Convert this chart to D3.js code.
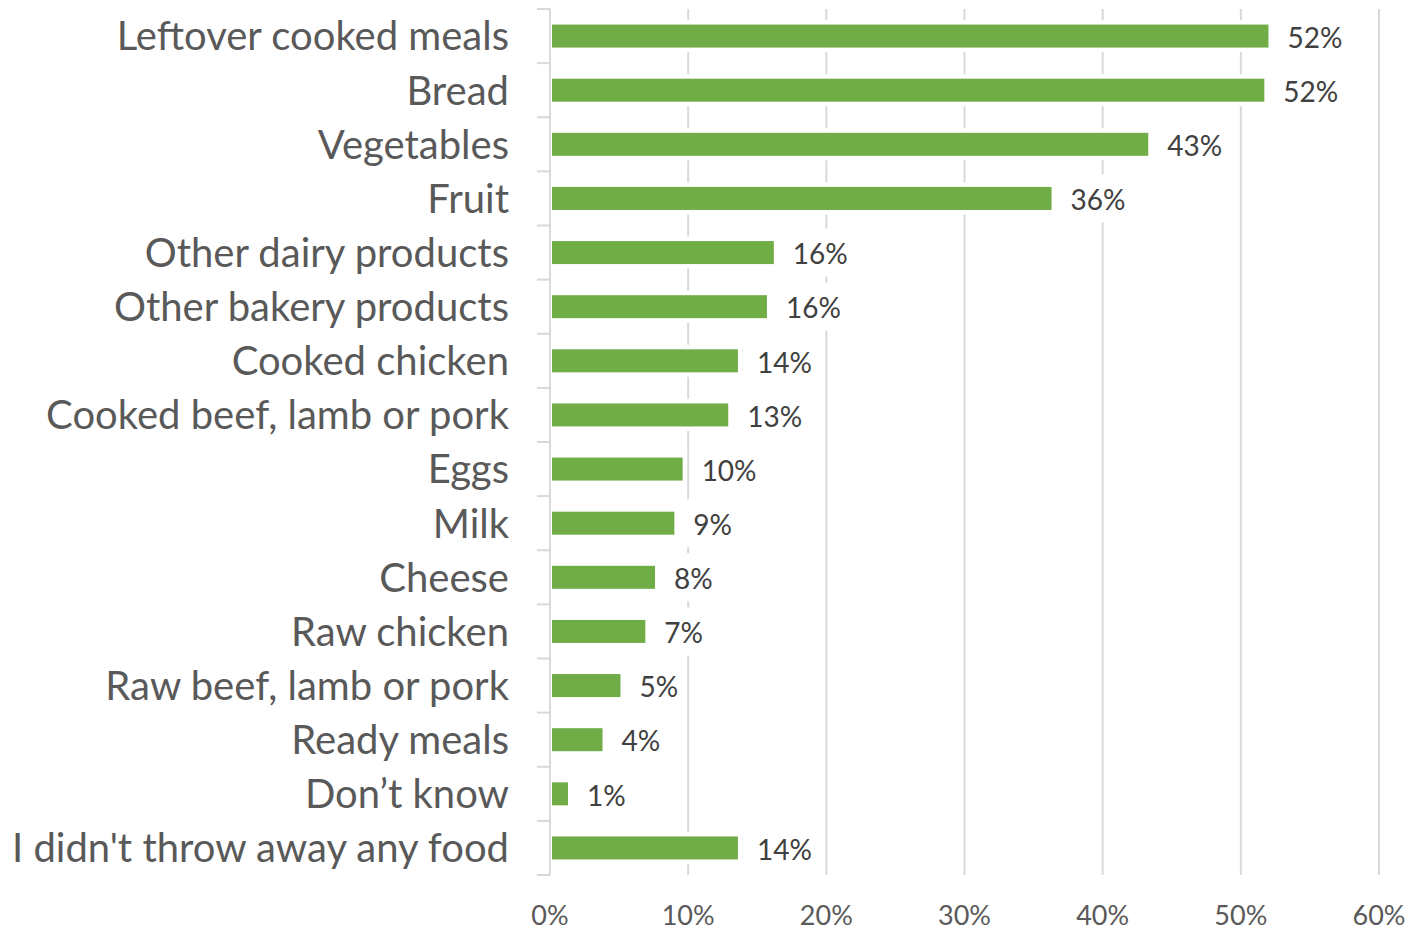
<!DOCTYPE html>
<html>
<head>
<meta charset="utf-8">
<script src="https://cdn.jsdelivr.net/npm/d3@7"></script>
<style>
  html, body { margin: 0; padding: 0; background: #ffffff; }
  svg { display: block; }
  text { font-family: Lato, "Open Sans", "Noto Sans", sans-serif; }
</style>
</head>
<body>
<svg id="chart" width="1409" height="929"></svg>
<script>
// Food types thrown away (share of respondents, %)
const categories = [
  "Leftover cooked meals",
  "Bread",
  "Vegetables",
  "Fruit",
  "Other dairy products",
  "Other bakery products",
  "Cooked chicken",
  "Cooked beef, lamb or pork",
  "Eggs",
  "Milk",
  "Cheese",
  "Raw chicken",
  "Raw beef, lamb or pork",
  "Ready meals",
  "Don\u2019t know",
  "I didn't throw away any food"
];
const shares = [52.0, 51.7, 43.3, 36.3, 16.2, 15.7, 13.6, 12.9, 9.6, 9.0, 7.6, 6.9, 5.1, 3.8, 1.3, 13.6];
const xTicks = [0, 10, 20, 30, 40, 50, 60];

const data = categories.map((c, i) => ({ category: c, value: shares[i] }));

const svg = d3.select("#chart");
const plotLeft = 550, plotRight = 1379, plotTop = 9, plotBottom = 875;

const x = d3.scaleLinear().domain([0, 60]).range([plotLeft, plotRight]);
const pad = 0.575;
const y = d3.scaleBand().domain(categories).range([plotTop, plotBottom])
  .paddingInner(pad).paddingOuter(pad / 2);

const pct = v => d3.format(".0f")(v) + "%";
const grid = "#d9d9d9";

// vertical gridlines
svg.append("g")
  .selectAll("line")
  .data(xTicks.filter(t => t > 0))
  .join("line")
  .attr("x1", d => x(d)).attr("x2", d => x(d))
  .attr("y1", plotTop).attr("y2", plotBottom)
  .attr("stroke", grid).attr("stroke-width", 2);

// bars with a thin white halo
svg.append("g")
  .selectAll("rect")
  .data(data)
  .join("rect")
  .attr("x", x(0) + 2)
  .attr("y", d => y(d.category))
  .attr("width", d => x(d.value) - x(0) - 2)
  .attr("height", y.bandwidth())
  .attr("fill", "#70ad47")
  .attr("stroke", "#ffffff")
  .attr("stroke-width", 9)
  .style("paint-order", "stroke");

// category axis: line plus outward ticks at band boundaries
const axisG = svg.append("g");
axisG.append("line")
  .attr("x1", plotLeft).attr("x2", plotLeft)
  .attr("y1", plotTop).attr("y2", plotBottom)
  .attr("stroke", grid).attr("stroke-width", 2);
const boundaries = categories.map(c => y(c) - y.step() * pad / 2)
  .concat([plotBottom]);
axisG.selectAll("line.tick")
  .data(boundaries)
  .join("line")
  .attr("class", "tick")
  .attr("x1", plotLeft - 13).attr("x2", plotLeft)
  .attr("y1", d => d).attr("y2", d => d)
  .attr("stroke", grid).attr("stroke-width", 2);

// category labels
svg.append("g")
  .selectAll("text")
  .data(categories)
  .join("text")
  .attr("x", 509)
  .attr("y", d => y(d) + y.bandwidth() / 2)
  .attr("dy", "0.36em")
  .attr("text-anchor", "end")
  .attr("font-size", 40)
  .attr("fill", "#595959")
  .text(d => d);

// value labels on white boxes
const labels = svg.append("g")
  .selectAll("g")
  .data(data)
  .join("g");
labels.append("rect").attr("fill", "#ffffff");
labels.append("text")
  .attr("x", d => x(d.value) + 19)
  .attr("y", d => y(d.category) + y.bandwidth() / 2)
  .attr("dy", "0.42em")
  .attr("font-size", 28)
  .attr("fill", "#404040")
  .text(d => pct(d.value));
labels.each(function() {
  const g = d3.select(this);
  const t = g.select("text");
  const w = t.node().getComputedTextLength();
  const tx = +t.attr("x"), ty = +t.attr("y");
  g.select("rect")
    .attr("x", tx - 7).attr("y", ty - 24)
    .attr("width", w + 14).attr("height", 48);
});

// value axis labels
svg.append("g")
  .selectAll("text")
  .data(xTicks)
  .join("text")
  .attr("x", d => x(d))
  .attr("y", 925)
  .attr("text-anchor", "middle")
  .attr("font-size", 27)
  .attr("fill", "#595959")
  .text(d => d + "%");
</script>
</body>
</html>
